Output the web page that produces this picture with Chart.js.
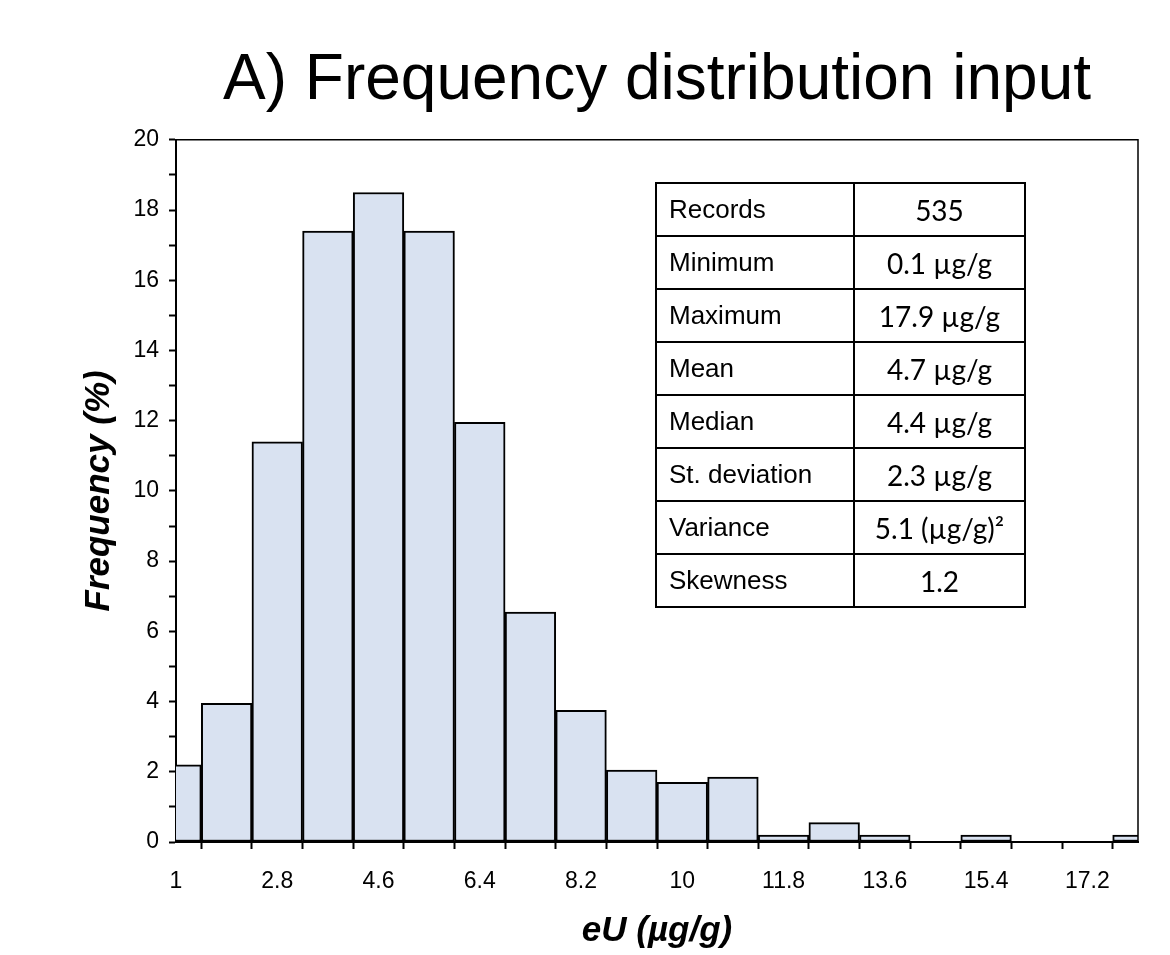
<!DOCTYPE html>
<html lang="en">
<head>
    <meta charset="UTF-8">
    <title>Frequency distribution input</title>
    <script src="https://cdn.jsdelivr.net/npm/chart.js"></script>
    <style>
        body { margin: 0; background: #fff; }
        #wrap { position: relative; width: 1170px; height: 955px; }
        #stats {
            position: absolute; left: 655px; top: 182px;
            border-collapse: collapse; width: 371px;
        }
        #stats tr { height: 53px; }
        #stats td {
            border: 2px solid #000; padding: 0;
            color: #000;
        }
        #stats td.lab {
            width: 184px; padding-left: 12px;
            font-family: "Liberation Sans Narrow", "Arial Narrow", "Liberation Sans", sans-serif;
            font-size: 26px;
        }
        #stats td.val {
            text-align: center;
            font-family: Lato, "Open Sans", sans-serif;
            font-size: 28px;
        }
    </style>
</head>
<body>
    <div id="wrap">
        <canvas id="graphic" width="1170" height="955"></canvas>
        <table id="stats"></table>
    </div>

    <script>
        // bin centres (µg/g), bin width 0.9
        const binCenters = [1, 1.9, 2.8, 3.7, 4.6, 5.5, 6.4, 7.3, 8.2, 9.1, 10, 10.9, 11.8, 12.7, 13.6, 14.5, 15.4, 16.3, 17.2, 18.1];
        const frequency = [2.2, 3.95, 11.4, 17.4, 18.5, 17.4, 11.95, 6.55, 3.75, 2.05, 1.7, 1.85, 0.2, 0.55, 0.2, 0, 0.2, 0, 0, 0.2];
        const xTickLabels = [1, 2.8, 4.6, 6.4, 8.2, 10, 11.8, 13.6, 15.4, 17.2];

        const statNames = ['Records', 'Minimum', 'Maximum', 'Mean', 'Median', 'St. deviation', 'Variance', 'Skewness'];
        const statValues = ['535', '0.1 µg/g', '17.9 µg/g', '4.7 µg/g', '4.4 µg/g', '2.3 µg/g', '5.1 (µg/g)²', '1.2'];

        const table = document.getElementById('stats');
        statNames.forEach((name, i) => {
            const tr = document.createElement('tr');
            tr.innerHTML = `<td class="lab">${name}</td><td class="val">${statValues[i]}</td>`;
            table.appendChild(tr);
        });

        // frame around the plot area (top and right sides thinner)
        const frame = {
            id: 'frame',
            afterDraw(chart) {
                const { ctx, chartArea: a } = chart;
                ctx.save();
                ctx.strokeStyle = '#000';
                ctx.lineWidth = 1.5;
                ctx.beginPath();
                ctx.moveTo(a.left, a.top);
                ctx.lineTo(a.right, a.top);
                ctx.lineTo(a.right, a.bottom);
                ctx.stroke();
                ctx.restore();
            }
        };

        const tickFont = { family: 'Liberation Sans, Arial, sans-serif', size: 23 };
        const titleFont = { family: 'Liberation Sans, Arial, sans-serif', size: 35, weight: 'bold', style: 'italic' };

        new Chart(document.getElementById('graphic'), {
            type: 'bar',
            data: {
                datasets: [{
                    data: binCenters.map((x, i) => ({ x: x, y: frequency[i] })),
                    backgroundColor: 'rgb(217, 226, 241)',
                    borderColor: '#000',
                    borderWidth: 2,
                    borderSkipped: false,
                    barPercentage: 1,
                    categoryPercentage: 1,
                    clip: 0
                }]
            },
            options: {
                responsive: false,
                animation: false,
                layout: { padding: { left: 0, right: 32, top: 0, bottom: 0 } },
                plugins: {
                    legend: { display: false },
                    tooltip: { enabled: false },
                    title: {
                        display: true,
                        text: 'A) Frequency distribution input',
                        color: '#000',
                        fullSize: false,
                        font: { family: 'Liberation Sans, Arial, sans-serif', size: 64, weight: 'normal' },
                        padding: { top: 43, bottom: 20 }
                    }
                },
                scales: {
                    x: {
                        type: 'linear',
                        min: 1,
                        max: 18.1,
                        offset: false,
                        afterBuildTicks: (scale) => {
                            scale.ticks = binCenters.map(v => ({ value: v }));
                        },
                        afterFit: (scale) => { scale.height = 113; },
                        ticks: {
                            color: '#000',
                            font: tickFont,
                            autoSkip: false,
                            maxRotation: 0,
                            padding: 19,
                            callback: (value) => xTickLabels.some(t => Math.abs(t - value) < 1e-6) ? String(value) : ''
                        },
                        grid: { drawOnChartArea: false, drawTicks: true, tickLength: 7, color: '#000', tickWidth: 2 },
                        border: { display: true, color: '#000', width: 2 },
                        title: { display: true, text: 'eU (µg/g)', color: '#000', font: titleFont, padding: { top: 0, bottom: 3 } }
                    },
                    y: {
                        min: 0,
                        max: 20,
                        afterFit: (scale) => { scale.width = 176; },
                        ticks: {
                            stepSize: 1,
                            color: '#000',
                            font: tickFont,
                            padding: 10,
                            callback: (value) => value % 2 === 0 ? value : ''
                        },
                        grid: { drawOnChartArea: false, drawTicks: true, tickLength: 7, color: '#000', tickWidth: 2 },
                        border: { display: true, color: '#000', width: 2 },
                        title: { display: true, text: 'Frequency (%)', color: '#000', font: titleFont, padding: { top: 78, bottom: 0 } }
                    }
                }
            },
            plugins: [frame]
        });
    </script>
</body>
</html>
